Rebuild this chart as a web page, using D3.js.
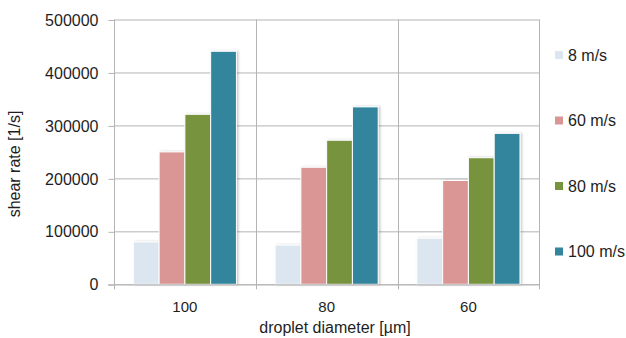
<!DOCTYPE html>
<html>
<head>
<meta charset="utf-8">
<script src="https://cdn.jsdelivr.net/npm/d3@7"></script>
<style>
  body { margin: 0; background: #fff; }
  text { font-family: "Liberation Sans", Arial, sans-serif; fill: #1e1e1e; }
</style>
</head>
<body>
<svg id="chart" width="626" height="338"></svg>
<script>
// chart data
const categories = ["100", "80", "60"];
const seriesNames = ["8 m/s", "60 m/s", "80 m/s", "100 m/s"];
const seriesColors = ["#dce6f1", "#da9694", "#77933c", "#31859c"];
const values = [
    [80000, 250000, 321000, 440000],   // 100 µm
    [74000, 221000, 272000, 335000],   // 80 µm
    [87000, 196000, 239000, 285000]    // 60 µm
];
const yTicks = [0, 100000, 200000, 300000, 400000, 500000];

const svg = d3.select("#chart");
const margin = { left: 114, right: 539.3, top: 19.5, bottom: 284.3 };
const gridColor = "#b4b4b4";

const x0 = d3.scaleBand()
    .domain(categories)
    .range([margin.left, margin.right])
    .padding(0);

const x1 = d3.scaleBand()
    .domain(seriesNames)
    .range([0, x0.bandwidth()])
    .paddingInner(0)
    .paddingOuter(0.75);

const y = d3.scaleLinear()
    .domain([0, 500000])
    .range([margin.bottom, margin.top]);

// soft shadow for the bars
const defs = svg.append("defs");
const shadow = defs.append("filter")
    .attr("id", "barShadow")
    .attr("x", "-20%").attr("y", "-5%")
    .attr("width", "150%").attr("height", "115%");
shadow.append("feDropShadow")
    .attr("dx", 1.5).attr("dy", 0)
    .attr("stdDeviation", 0.8)
    .attr("flood-color", "#000")
    .attr("flood-opacity", 0.22);

// horizontal grid lines + y ticks
const yAxis = d3.axisLeft(y)
    .tickValues(yTicks)
    .tickSize(6)
    .tickPadding(10)
    .tickFormat(d3.format("d"));

svg.append("g")
    .attr("class", "grid-h")
    .selectAll("line")
    .data(yTicks)
    .join("line")
    .attr("x1", margin.left)
    .attr("x2", margin.right)
    .attr("y1", d => y(d) + 0.5)
    .attr("y2", d => y(d) + 0.5)
    .attr("stroke", gridColor);

// vertical grid lines at category boundaries
const bounds = categories.map(c => x0(c)).concat([margin.right]);
svg.append("g")
    .attr("class", "grid-v")
    .selectAll("line")
    .data(bounds)
    .join("line")
    .attr("x1", d => Math.round(d) + 0.5)
    .attr("x2", d => Math.round(d) + 0.5)
    .attr("y1", margin.top)
    .attr("y2", margin.bottom + 5)
    .attr("stroke", gridColor);

const yG = svg.append("g")
    .attr("transform", `translate(${margin.left + 0.5},0.5)`)
    .call(yAxis);
yG.select(".domain").remove();
yG.selectAll(".tick line").attr("stroke", gridColor);
yG.selectAll(".tick text")
    .attr("font-size", 16)
    .attr("fill", "#1e1e1e")
    .attr("font-family", "Liberation Sans, Arial, sans-serif");

// bars
const groups = svg.append("g")
    .selectAll("g")
    .data(values)
    .join("g")
    .attr("transform", (d, i) => `translate(${x0(categories[i])},0)`);

groups.selectAll("rect")
    .data(row => row.map((v, j) => ({ name: seriesNames[j], value: v, color: seriesColors[j] })))
    .join("rect")
    .attr("x", d => x1(d.name))
    .attr("y", d => y(d.value))
    .attr("width", x1.bandwidth())
    .attr("height", d => y(0) - y(d.value))
    .attr("fill", d => d.color)
    .attr("stroke", "#fff")
    .attr("stroke-width", 1)
    .attr("filter", "url(#barShadow)");

// baseline drawn over the bars
svg.append("line")
    .attr("x1", margin.left - 6)
    .attr("x2", margin.right)
    .attr("y1", y(0) + 0.5)
    .attr("y2", y(0) + 0.5)
    .attr("stroke", gridColor);

// x tick labels
svg.append("g")
    .selectAll("text")
    .data(categories)
    .join("text")
    .attr("x", d => x0(d) + x0.bandwidth() / 2)
    .attr("y", 312)
    .attr("text-anchor", "middle")
    .attr("font-size", 15)
    .text(d => d);

// axis titles
svg.append("text")
    .attr("x", 335)
    .attr("y", 333)
    .attr("text-anchor", "middle")
    .attr("font-size", 16)
    .text("droplet diameter [µm]");

svg.append("text")
    .attr("transform", "translate(20,164) rotate(-90)")
    .attr("text-anchor", "middle")
    .attr("font-size", 16)
    .text("shear rate [1/s]");

// legend
const legend = svg.append("g")
    .selectAll("g")
    .data(seriesNames)
    .join("g")
    .attr("transform", (d, i) => `translate(555,${55 + i * 65.5})`);

legend.append("rect")
    .attr("x", 0)
    .attr("y", -4)
    .attr("width", 8)
    .attr("height", 8)
    .attr("fill", (d, i) => seriesColors[i]);

legend.append("text")
    .attr("x", 13)
    .attr("y", 0)
    .attr("dy", "0.36em")
    .attr("font-size", 16)
    .text(d => d);
</script>
</body>
</html>
